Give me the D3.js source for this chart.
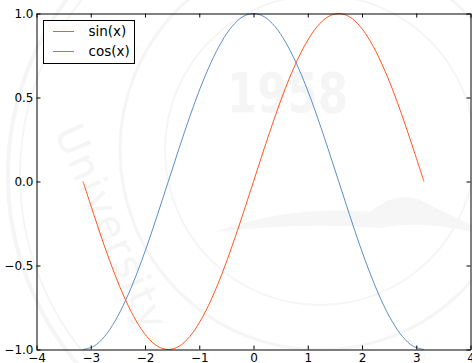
<!DOCTYPE html>
<html>
<head>
<meta charset="utf-8">
<script src="https://cdn.jsdelivr.net/npm/d3@7"></script>
<style>
  body { margin: 0; background: #fff; }
  svg { display: block; font-family: "DejaVu Sans", sans-serif; }
</style>
</head>
<body>
<div class="chart"></div>
<script>
const width = 472;
const height = 363;
const margin = ({top: 13.5, right: 1.5, bottom: 13.5, left: 36.5});

// sample points, x from -pi to pi
const xs = [-3.142, -2.945, -2.749, -2.553, -2.356, -2.160, -1.963, -1.767, -1.571,
            -1.374, -1.178, -0.982, -0.785, -0.589, -0.393, -0.196, 0,
            0.196, 0.393, 0.589, 0.785, 0.982, 1.178, 1.374, 1.571,
            1.767, 1.963, 2.160, 2.356, 2.553, 2.749, 2.945, 3.142];
const sinVals = [0, -0.195, -0.383, -0.556, -0.707, -0.831, -0.924, -0.981, -1,
                 -0.981, -0.924, -0.831, -0.707, -0.556, -0.383, -0.195, 0,
                 0.195, 0.383, 0.556, 0.707, 0.831, 0.924, 0.981, 1,
                 0.981, 0.924, 0.831, 0.707, 0.556, 0.383, 0.195, 0];
const cosVals = [-1, -0.981, -0.924, -0.831, -0.707, -0.556, -0.383, -0.195, 0,
                 0.195, 0.383, 0.556, 0.707, 0.831, 0.924, 0.981, 1,
                 0.981, 0.924, 0.831, 0.707, 0.556, 0.383, 0.195, 0,
                 -0.195, -0.383, -0.556, -0.707, -0.831, -0.924, -0.981, -1];
const seriesNames = ["sin(x)", "cos(x)"];
const seriesColors = ["#ff5722", "#5b8fc7"];
const xTicks = [-4, -3, -2, -1, 0, 1, 2, 3, 4];
const yTicks = [-1.0, -0.5, 0.0, 0.5, 1.0];

const series = [sinVals, cosVals].map((vals, i) => ({
  name: seriesNames[i],
  color: seriesColors[i],
  points: xs.map((x, j) => [x, vals[j]])
}));

const svg = d3.select('.chart')
  .append('svg')
  .attr('width', width)
  .attr('height', height);

// faint watermark in background
const wm = svg.append('g').attr('fill', 'none').attr('stroke', '#f5f5f5');
wm.append('circle').attr('cx', 300).attr('cy', 175).attr('r', 292).attr('stroke-width', 4);
wm.append('circle').attr('cx', 300).attr('cy', 175).attr('r', 280).attr('stroke-width', 2);
wm.append('circle').attr('cx', 320).attr('cy', 150).attr('r', 200).attr('stroke-width', 3);
wm.append('circle').attr('cx', 320).attr('cy', 150).attr('r', 155).attr('stroke-width', 2);
wm.append('path')
  .attr('d', 'M215,232 Q290,205 370,212 Q395,190 420,200 Q450,215 472,225 L472,232 Q420,220 380,228 Q300,222 215,232 Z')
  .attr('fill', '#f6f6f6').attr('stroke', 'none');
svg.append('text')
  .attr('x', 227).attr('y', 112)
  .attr('font-size', 55).attr('font-weight', 'bold')
  .attr('textLength', 121)
  .attr('lengthAdjust', 'spacingAndGlyphs')
  .attr('fill', '#f5f5f5')
  .text('1958');
svg.append('text')
  .attr('transform', 'translate(54,132) rotate(66)')
  .attr('font-size', 40)
  .attr('letter-spacing', 2)
  .attr('fill', '#f5f5f5')
  .text('University');

const x = d3.scaleLinear()
  .domain([-4, 4])
  .range([margin.left, width - margin.right]);
const y = d3.scaleLinear()
  .domain([-1, 1])
  .range([height - margin.bottom, margin.top]);

const line = d3.line()
  .x(d => x(d[0]))
  .y(d => y(d[1]))
  .curve(d3.curveCatmullRom);

svg.selectAll('.series')
  .data(series)
  .enter()
  .append('path')
  .attr('class', 'series')
  .attr('fill', 'none')
  .attr('stroke', d => d.color)
  .attr('stroke-width', 1)
  .attr('d', d => line(d.points));

// axes, ticks pointing inward
const xFmt = d3.format('d');
const yFmt = d3.format('.1f');

const xAxis = svg.append('g')
  .attr('transform', `translate(0,${height - margin.bottom})`)
  .call(d3.axisBottom(x).tickValues(xTicks).tickFormat(xFmt).tickSizeInner(-4).tickSizeOuter(0).tickPadding(6));
const xTop = svg.append('g')
  .attr('transform', `translate(0,${margin.top})`)
  .call(d3.axisTop(x).tickValues(xTicks).tickFormat('').tickSizeInner(-4).tickSizeOuter(0));
const yAxis = svg.append('g')
  .attr('transform', `translate(${margin.left},0)`)
  .call(d3.axisLeft(y).tickValues(yTicks).tickFormat(yFmt).tickSizeInner(-4).tickSizeOuter(0).tickPadding(3));
const yRight = svg.append('g')
  .attr('transform', `translate(${width - margin.right},0)`)
  .call(d3.axisRight(y).tickValues(yTicks).tickFormat('').tickSizeInner(-4).tickSizeOuter(0));

[xAxis, xTop, yAxis, yRight].forEach(g => {
  g.select('.domain').attr('stroke', '#000').attr('stroke-width', 1);
  g.selectAll('.tick line').attr('stroke', '#000');
  g.selectAll('.tick text')
    .attr('font-family', '"DejaVu Sans", sans-serif')
    .attr('font-size', 12)
    .attr('fill', '#000');
});
xAxis.selectAll('.tick text').attr('dy', '0.55em');

// legend
const legend = svg.append('g').attr('transform', 'translate(43.5,20.5)');
legend.append('rect')
  .attr('width', 91).attr('height', 43)
  .attr('fill', '#fff')
  .attr('stroke', '#000')
  .attr('stroke-width', 1);
const items = legend.selectAll('.item')
  .data(series)
  .enter()
  .append('g')
  .attr('class', 'item')
  .attr('transform', (d, i) => `translate(0,${11 + i * 20})`);
items.append('line')
  .attr('x1', 9.5).attr('x2', 30.5)
  .attr('stroke', d => d.color)
  .attr('stroke-width', 1);
items.append('text')
  .attr('x', 45)
  .attr('dy', '0.35em')
  .attr('font-size', 13.5)
  .attr('fill', '#000')
  .text(d => d.name);
</script>
</body>
</html>
